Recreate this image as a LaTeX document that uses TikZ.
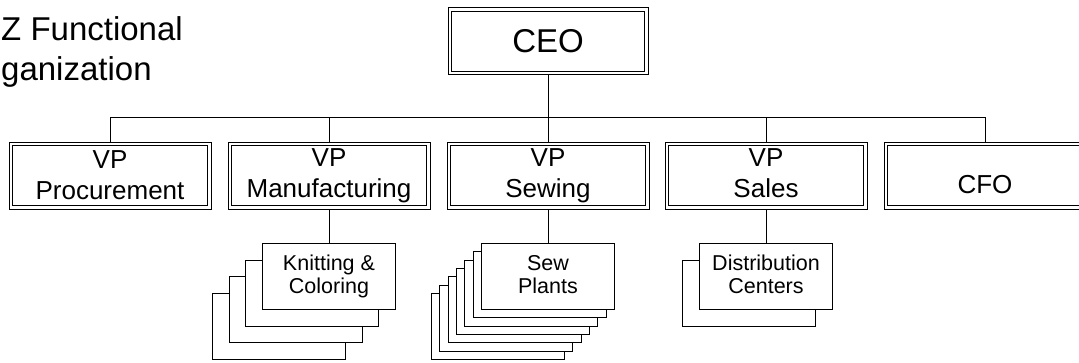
\documentclass[tikz,border=0pt]{standalone}
\usepackage{fontspec}
\setmainfont{Liberation Sans}
\usetikzlibrary{backgrounds}
\begin{document}
\begin{tikzpicture}[x=1pt,y=-1pt,
  mainbox/.style={draw, line width=0.9pt, fill=white,
    minimum width=202pt, minimum height=67pt, inner sep=0pt, align=center,
    font=\fontsize{26}{31}\selectfont},
  innerline/.style={draw, line width=0.9pt},
  subbox/.style={draw, line width=0.9pt, fill=white, minimum width=133pt,
    minimum height=66pt, inner sep=0pt, align=center,
    font=\fontsize{21.5}{23.3}\selectfont},
  stackbox/.style={draw, line width=0.9pt, fill=white, minimum width=133pt,
    minimum height=66pt, inner sep=0pt},
  conn/.style={draw, line width=0.9pt},
  titletext/.style={anchor=base west, inner sep=0pt, font=\fontsize{33}{40}\selectfont}
]
\useasboundingbox (0,0) rectangle (1079,362);

% title
\node[titletext] (title1) at (1,40) {Z Functional};
\node[titletext] (title2) at (1,80) {ganization};

% top
\node[mainbox, minimum width=200pt, font=\fontsize{33}{38}\selectfont] (ceo) at (548,41) {CEO};

% VPs
\node[mainbox] (proc)  at (110,175.5) {VP\\Procurement};
\node[mainbox] (manu)  at (329,175.5) {VP\\Manufacturing};
\node[mainbox] (sew)   at (548,175.5) {VP\\Sewing};
\node[mainbox] (sales) at (766,175.5) {VP\\Sales\vphantom{p}};
\node[mainbox, text height=40pt, text depth=4.4pt] (cfo) at (985,175.5) {CFO};

% inner lines of the double borders
\foreach \n in {ceo,proc,manu,sew,sales,cfo}
  \draw[innerline] ([shift={(4pt,4pt)}]\n.south west) rectangle ([shift={(-4pt,-4pt)}]\n.north east);

% stacks behind Knitting & Coloring
\foreach \k in {3,2,1}
  \node[stackbox] (knit\k) at (329-16.7*\k, 276.5+16.7*\k) {};
\node[subbox] (knit) at (329,276.5) {Knitting \&\\Coloring};

% stacks behind Sew Plants
\foreach \k in {6,5,4,3,2,1}
  \node[stackbox] (plant\k) at (548-8.35*\k, 276.5+8.35*\k) {};
\node[subbox] (plant) at (548,276.5) {Sew\\Plants\vphantom{g}};

% stack behind Distribution Centers
\node[stackbox] (dist1) at (766-16.7, 276.5+16.7) {};
\node[subbox] (dist) at (766,276.5) {Distribution\\Centers\vphantom{g}};

% connectors
\begin{scope}[on background layer]
  \coordinate (bus) at (548,117);
  \draw[conn] (ceo.south) -- (bus);
  \foreach \n in {proc,manu,sew,sales,cfo}
    \draw[conn] (\n.north) |- (bus);
  \draw[conn] (manu.south) -- (knit.north);
  \draw[conn] (sew.south) -- (plant.north);
  \draw[conn] (sales.south) -- (dist.north);
\end{scope}
\end{tikzpicture}
\end{document}
